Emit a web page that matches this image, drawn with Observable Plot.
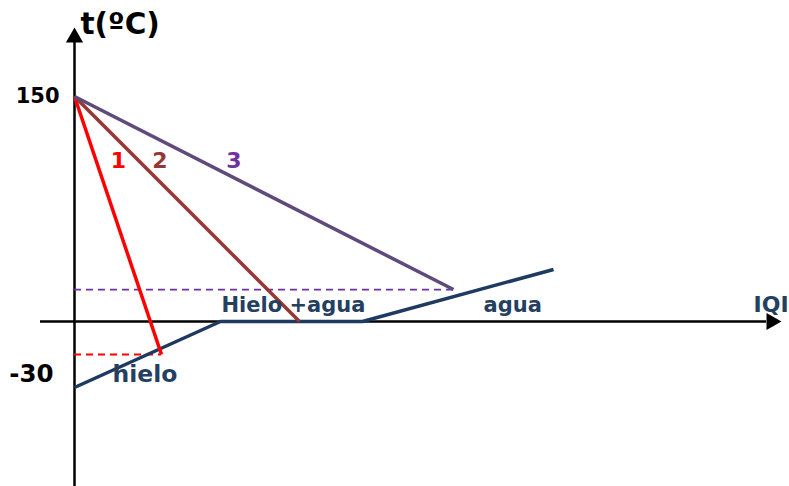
<!DOCTYPE html>
<html>
<head>
<meta charset="utf-8">
<script src="https://cdn.jsdelivr.net/npm/d3@7"></script>
<script src="https://cdn.jsdelivr.net/npm/@observablehq/plot@0.6"></script>
<style>
  html, body { margin: 0; padding: 0; background: #fff; }
  #chart svg { display: block; }
</style>
</head>
<body>
<div id="chart"></div>
<script>
// ---- data (x: heat Q, arbitrary units; y: temperature °C) ----
const startTemp = 150;
const heatingQ = [0, 14.6, 28.8, 47.9];
const heatingT = [-44, 0, 0, 34.7];
const coolingNames = ["1", "2", "3"];
const coolingEndQ = [8.7, 22.5, 37.9];
const coolingEndT = [-22, 0, 21.3];
const coolingLabelQ = [4.4, 8.55, 15.95];
const coolingLabelT = [106.7, 106.7, 106.7];
const tickValues = [150, -30];
const tickLabels = ["150", "-30"];
const regionNames = ["hielo", "Hielo +agua", "agua"];
const regionQ = [3.8, 14.7, 40.9];
const regionT = [-35, 11.1, 11.1];
const axisTitleY = "t(ºC)";
const axisTitleX = "IQI";

const font = "DejaVu Sans, Verdana, sans-serif";
const navy = "#1F3A60";
const textNavy = "#243F60";
const lineColors = ["#FF0000", "#953735", "#5F4A7B"];
const labelColors = ["#FF0000", "#953735", "#7030A0"];
const dashColors = ["#FF0000", null, "#7030A0"];
const regionSizes = [23.5, 21, 21];

const heating = heatingQ.map((q, i) => ({q, t: heatingT[i]}));
const cooling = coolingNames.flatMap((name, i) => [
  {name, q: 0, t: startTemp},
  {name, q: coolingEndQ[i], t: coolingEndT[i]}
]);
const dashes = coolingNames.map((name, i) => ({name, q: coolingEndQ[i], t: coolingEndT[i], color: dashColors[i]}))
  .filter(d => d.color);
const coolLabels = coolingNames.map((name, i) => ({name, q: coolingLabelQ[i], t: coolingLabelT[i], color: labelColors[i]}));
const regions = regionNames.map((name, i) => ({name, q: regionQ[i], t: regionT[i], size: regionSizes[i]}));

const chart = Plot.plot({
  width: 789,
  height: 486,
  margin: 0,
  x: {domain: [-7.4, 71.5], axis: null},
  y: {domain: [-110, 214], axis: null},
  style: {fontFamily: font, background: "#fff"},
  marks: [
    // axes
    Plot.ruleY([0], {x1: -3.4, x2: 69.2, stroke: "#000", strokeWidth: 2.5}),
    Plot.ruleX([0], {y1: -110, y2: 186, stroke: "#000", strokeWidth: 2.5}),
    Plot.dot([{q: 0, t: 189.3}], {x: "q", y: "t", symbol: "triangle", r: 6.4, fill: "#000", stroke: null}),
    Plot.dot([{q: 69.7, t: 0}], {x: "q", y: "t", symbol: "triangle", r: 6.4, fill: "#000", stroke: null, rotate: 90}),
    // dashed guides
    Plot.ruleY(dashes, {y: "t", x1: 0, x2: "q", stroke: d => d.color, strokeWidth: 1.8, strokeDasharray: "7,5"}),
    // heating curve
    Plot.line(heating, {x: "q", y: "t", stroke: navy, strokeWidth: 3.5, strokeLinejoin: "miter", strokeLinecap: "butt"}),
    // cooling lines
    Plot.line(cooling, {x: "q", y: "t", z: "name", stroke: d => lineColors[coolingNames.indexOf(d.name)], strokeWidth: 3.5, strokeLinecap: "butt"}),
    // labels
    Plot.text(coolLabels, {x: "q", y: "t", text: "name", fill: d => d.color, fontSize: 22, fontWeight: "bold"}),
    Plot.text(regions.filter(d => d.size === 21), {x: "q", y: "t", text: "name", fill: textNavy, fontSize: 21, fontWeight: "bold", textAnchor: "start"}),
    Plot.text(regions.filter(d => d.size !== 21), {x: "q", y: "t", text: "name", fill: textNavy, fontSize: 23.5, fontWeight: "bold", textAnchor: "start"}),
    Plot.text([tickValues[0]], {x: 0, y: d => d, text: () => tickLabels[0], fill: "#000", fontSize: 21, fontWeight: "bold", textAnchor: "end", dx: -15}),
    Plot.text([tickValues[1]], {x: 0, y: d => d, text: () => tickLabels[1], fill: "#000", fontSize: 24.5, fontWeight: "bold", textAnchor: "end", dx: -21, dy: 8}),
    Plot.text([axisTitleY], {x: 0.6, y: 198.3, text: d => d, fill: "#000", fontSize: 29.5, fontWeight: "bold", textAnchor: "start"}),
    Plot.text([axisTitleX], {x: 67.9, y: 11.3, text: d => d, fill: textNavy, fontSize: 22, fontWeight: "bold", textAnchor: "start"})
  ]
});
document.getElementById("chart").appendChild(chart);
</script>
</body>
</html>
